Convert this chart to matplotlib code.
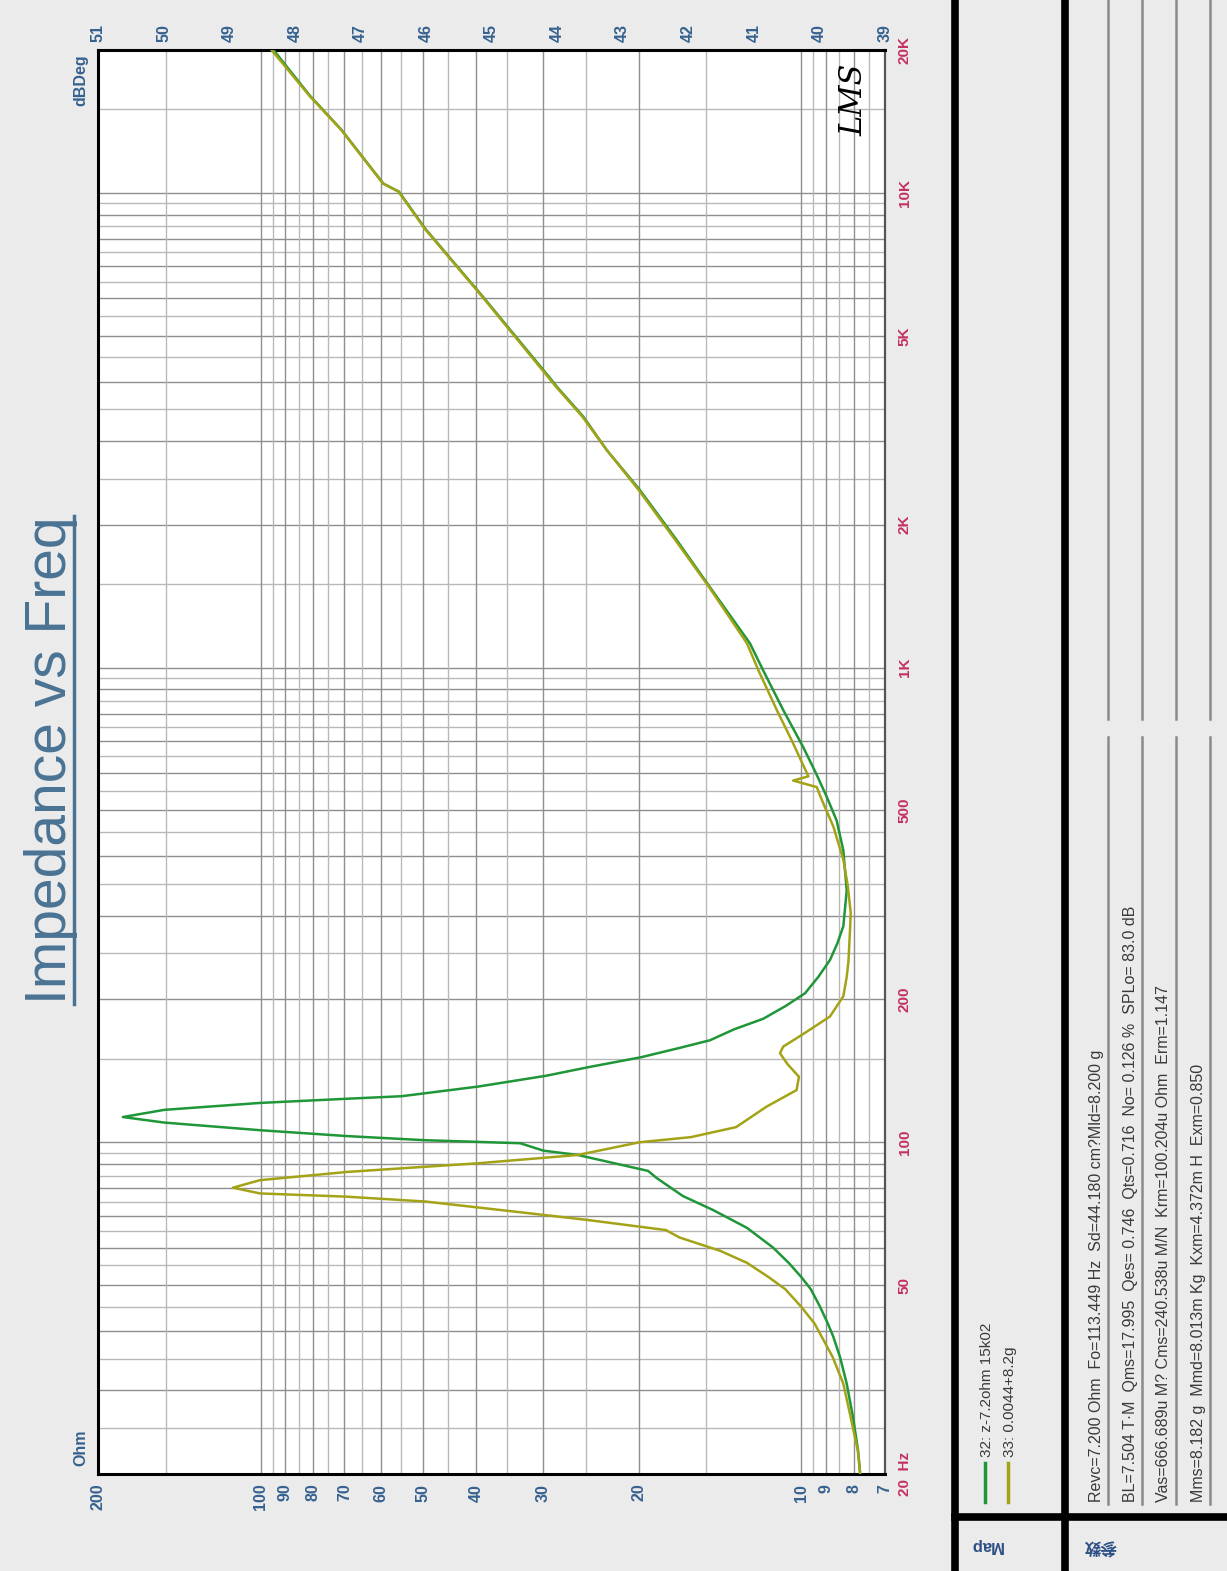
import numpy as np
import matplotlib
matplotlib.use('Agg')
import matplotlib.pyplot as plt
from matplotlib.lines import Line2D

freq_32 = [20, 22.4, 26.3, 31, 35.3, 39, 41.5, 45, 49, 52, 55.7, 60, 66, 72, 77, 84, 87,
           94, 96, 99.5, 101, 103, 106, 110, 113, 117, 121, 123.5, 125, 131, 138,
           144, 151, 158, 164, 173, 182, 193.5, 206, 223, 242, 262, 285, 339, 412,
           476, 534, 600, 680, 814, 986, 1124, 1476, 1856, 2368, 2872, 3376, 3900,
           4060, 6040, 8400, 10060, 10460, 13580, 16000, 20000]
ohm_32 = [7.78, 7.85, 8.02, 8.24, 8.48, 8.73, 8.93, 9.23, 9.6, 10.0, 10.55, 11.28,
          12.6, 14.57, 16.55, 18.5, 19.2, 25.9, 30.0, 33.1, 49.8, 69.0, 100.3, 150.8,
          179.9, 150.8, 100.3, 69.0, 54.9, 39.6, 29.7, 24.7, 19.8, 16.8, 14.75, 13.3,
          11.76, 10.7, 9.84, 9.3, 8.85, 8.58, 8.36, 8.24, 8.36, 8.6, 8.97, 9.4, 9.92,
          10.8, 11.76, 12.44, 14.75, 17.0, 19.9, 22.9, 25.3, 28.3, 29.1, 38.8, 49.6,
          55.5, 59.3, 70.9, 81.0, 94.7]

freq_33 = [20, 22.4, 26.3, 31, 35.3, 41.5, 45, 49, 52, 55.7, 59, 63, 65.3, 68.6,
           70.2, 72, 75, 76.8, 78, 80.2, 83.2, 86.6, 90.3, 94, 100, 102.5, 107.6,
           118.8, 128.8, 137.4, 146, 154, 159, 169, 184, 203, 223, 240, 276, 304, 346,
           394, 462, 526, 560, 578, 590, 620, 700, 814, 986, 1124, 1476, 1856, 2368,
           2872, 3376, 3900, 6040, 8400, 10060, 10460, 13580, 16000, 20000]
ohm_33 = [7.78, 7.86, 8.1, 8.36, 8.75, 9.45, 10.0, 10.7, 11.5, 12.6, 14.1, 16.8,
          17.8, 24.9, 29.7, 36.1, 49.6, 69.5, 100.3, 112.6, 100.3, 69.0, 39.6, 25.9,
          19.9, 16.0, 13.2, 11.6, 10.2, 10.1, 10.6, 10.95, 10.8, 9.92, 8.85, 8.36,
          8.24, 8.18, 8.13, 8.1, 8.2, 8.36, 8.72, 9.16, 9.36, 10.35, 9.7, 9.9, 10.4,
          11.1, 12.0, 12.6, 14.8, 17.1, 20.0, 22.9, 25.4, 28.4, 38.9, 49.7, 55.6,
          59.4, 71.0, 81.2, 95.5]

ohm_ticks = [200, 100, 90, 80, 70, 60, 50, 40, 30, 20, 10, 9, 8, 7]
deg_ticks = list(range(39, 52))
freq_ticks = [20, 50, 100, 200, 500, 1000, 2000, 5000, 10000, 20000]
freq_labels = ['20  Hz', '50', '100', '200', '500', '1K', '2K', '5K', '10K', '20K']

legend_labels = ['32: z-7.2ohm 15k02', '33: 0.0044+8.2g']
param_lines = [
    'Revc=7.200 Ohm  Fo=113.449 Hz  Sd=44.180 cm?Mld=8.200 g',
    'BL=7.504 T\u00b7M  Qms=17.995  Qes= 0.746  Qts=0.716  No= 0.126 %  SPLo= 83.0 dB',
    'Vas=666.689u M? Cms=240.538u M/N  Krm=100.204u Ohm  Erm=1.147',
    'Mms=8.182 g  Mmd=8.013m Kg  Kxm=4.372m H  Exm=0.850',
]

# gridline positions (LMS style: whole and half steps in each decade)
grid_f = np.concatenate([np.arange(20, 100, 5), np.arange(100, 1000, 50),
                         np.arange(1000, 10000, 500), [10000, 15000, 20000]])
grid_z = np.concatenate([np.arange(7, 10, 0.5), np.arange(10, 100, 5), [100, 150, 200]])

# ---- styling ----
GREEN = '#1f9638'
OLIVE = '#a4a318'
BLUE = '#36618f'
RED = '#c3315f'
BG = '#ebebeb'
narrow = ['Liberation Sans Narrow', 'Liberation Sans', 'DejaVu Sans']
plt.rcParams['font.family'] = ['Liberation Sans', 'DejaVu Sans', 'Noto Sans CJK SC']

W, H = 1227, 1571
fig = plt.figure(figsize=(W / 100, H / 100), dpi=100, facecolor=BG)


def fx(px):
  return px / W


def fy(py):
  return 1 - py / H


ax = fig.add_axes([fx(98), fy(1474), fx(885) - fx(98), fy(50) - fy(1474)])
ax.set_facecolor('white')
ax.set_xscale('log')
ax.set_yscale('log')
ax.set_xlim(200, 7)
ax.set_ylim(20, 20000)
ax.minorticks_off()


def is_whole(v):
  m = v / 10 ** np.floor(np.log10(v) + 1e-9)
  return abs(m - round(m)) < 1e-6


for f in grid_f:
  ax.axhline(f, color='#8e8e8e' if is_whole(f) else '#b8b8b8', lw=1.0, zorder=1)
for z in grid_z:
  ax.axvline(z, color='#8e8e8e' if is_whole(z) else '#b8b8b8', lw=1.0, zorder=1)

ax.plot(ohm_32, freq_32, color=GREEN, lw=1.8, zorder=3)
ax.plot(ohm_33, freq_33, color=OLIVE, lw=1.8, zorder=3)

# impedance labels (below, rotated)
ax.set_xticks(ohm_ticks)
ax.set_xticklabels([str(t) for t in ohm_ticks], rotation=90, color=BLUE,
                   fontsize=11.5, fontweight='bold', family=narrow)
ax.tick_params(axis='x', length=0, pad=7)

# frequency labels (right, rotated)
ax.yaxis.tick_right()
ax.set_yticks(freq_ticks)
ax.set_yticklabels(freq_labels, rotation=90, va='center', color=RED,
                   fontsize=11, fontweight='bold', family=narrow)
ax.tick_params(axis='y', length=0, pad=9)
ax.minorticks_off()

for side in ['left', 'top', 'bottom']:
  ax.spines[side].set_linewidth(2.2)
  ax.spines[side].set_color('black')
ax.spines['right'].set_linewidth(1.6)
ax.spines['right'].set_color('#555555')

# phase scale on top
ax2 = ax.twiny()
ax2.set_xlim(51, 39)
ax2.set_xticks(deg_ticks)
ax2.set_xticklabels([str(t) for t in deg_ticks], rotation=90, color=BLUE,
                    fontsize=11.5, fontweight='bold', family=narrow)
ax2.tick_params(axis='x', length=0, pad=6)
for s in ax2.spines.values():
  s.set_visible(False)
ax2.patch.set_visible(False)

# axis names
fig.text(fx(81), fy(1448), 'Ohm', rotation=90, ha='center', va='center',
         color=BLUE, fontsize=11.5, fontweight='bold', family=narrow)
fig.text(fx(81), fy(80), 'dBDeg', rotation=90, ha='center', va='center',
         color=BLUE, fontsize=11.5, fontweight='bold', family=narrow)

# title
title = fig.text(fx(51), fy(760), 'Impedance vs Freq', rotation=90, ha='center',
                 va='center', color='#4a7393', fontsize=41)
fig.text(fx(854), fy(100), 'LMS', rotation=90, ha='center', va='center',
         color='black', fontsize=22, style='italic', family=['DejaVu Serif'])

# right panel rules
fig.add_artist(Line2D([fx(955)] * 2, [0, 1], color='black', lw=5.5))
fig.add_artist(Line2D([fx(1065)] * 2, [0, 1], color='black', lw=5.5))
fig.add_artist(Line2D([fx(955), 1], [fy(1517)] * 2, color='black', lw=5.5))

# legend
for xp, col, lab in zip([985, 1008], [GREEN, OLIVE], legend_labels):
  fig.add_artist(Line2D([fx(xp)] * 2, [fy(1502), fy(1463)], color=col, lw=2.5))
  fig.text(fx(xp + 2), fy(1457), lab, rotation=90, ha='center', va='bottom',
           color='#3a3a3a', fontsize=11, family=narrow)

# parameter lines with their rules
for xt, xl, txt in zip([1097, 1131, 1164, 1198], [1108, 1142, 1176, 1210], param_lines):
  fig.text(fx(xt), fy(1502), txt, rotation=90, ha='center', va='bottom',
           color='#3a3a3a', fontsize=11.5, family=narrow)
  fig.add_artist(Line2D([fx(xl)] * 2, [fy(1504), fy(737)], color='#8a8a8a', lw=1.8))
  fig.add_artist(Line2D([fx(xl)] * 2, [fy(719), 1], color='#8a8a8a', lw=1.8))

fig.text(fx(986), fy(1546), 'Map', rotation=180, ha='center', va='center',
         color='#2c4f86', fontsize=12, fontweight='bold')
fig.text(fx(1100), fy(1546), '参数', rotation=180, ha='center', va='center',
         color='#2c4f86', fontsize=12, fontweight='bold',
         family=['Noto Sans CJK SC', 'DejaVu Sans'])

# underline the title
fig.canvas.draw()
bb = title.get_window_extent().transformed(fig.transFigure.inverted())
ux = bb.x1 - 4.0 / W
fig.add_artist(Line2D([ux, ux], [bb.y0, bb.y1], color='#4a7393', lw=2.5))

fig.savefig('out.png', dpi=100, facecolor=BG)
